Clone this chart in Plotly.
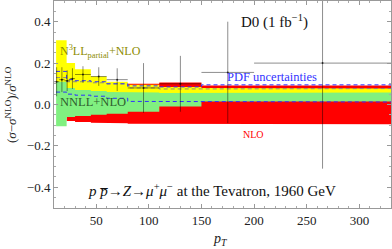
import plotly.graph_objects as go

# ---------------- data ----------------
# band bins (pT edges)
band_edges = [12, 22, 30, 45, 60, 80, 110, 150, 200, 330]
yellow_hi = [0.31, 0.20, 0.17, 0.135, 0.11, 0.095, 0.085, 0.080, 0.077]
yellow_lo = [0.06, 0.05, 0.05, 0.05, 0.05, 0.05, 0.05, 0.05, 0.05]
green_hi = [0.11, 0.08, 0.07, 0.065, 0.06, 0.058, 0.055, 0.058, 0.058]
green_lo = [-0.105, -0.06, -0.055, -0.05, -0.045, -0.035, -0.01, 0.014, 0.014]
red_edges = [22, 30, 45, 60, 80, 110, 150, 200, 330]
red_hi = [0.05, 0.06, 0.07, 0.08, 0.10, 0.106, 0.092, 0.092]
red_lo = [-0.08, -0.085, -0.088, -0.09, -0.093, -0.095, -0.096, -0.096]
central = [0.13, 0.11, 0.11, 0.105, 0.10, 0.08, 0.075, 0.077, 0.077]
pdf_hi = [0.16, 0.12, 0.115, 0.11, 0.10, 0.09, 0.085, 0.095, 0.095]
pdf_lo = [0.06, 0.05, 0.045, 0.04, 0.03, 0.015, 0.012, 0.012, 0.012]

# D0 data points
pt_lo = [10, 15, 20, 25, 30, 45, 60, 80, 110, 150, 200]
pt_hi = [15, 20, 25, 30, 45, 60, 80, 110, 150, 200, 330]
data_val = [0.11, 0.12, 0.115, 0.125, 0.145, 0.135, 0.12, 0.08, 0.10, 0.155, 0.20]
data_err = [0.07, 0.06, 0.05, 0.05, 0.04, 0.045, 0.055, 0.12, 0.135, 0.245, 0.51]

x_ticks = [50, 100, 150, 200, 250, 300]
y_ticks = [-0.4, -0.2, 0.0, 0.2, 0.4]
y_tick_text = ["\u22120.4", "\u22120.2", "0.0", "0.2", "0.4"]

SERIF = "Liberation Serif, Times New Roman, serif"


def step_xy(edges, vals):
    xs, ys = [], []
    for i, v in enumerate(vals):
        xs += [edges[i], edges[i + 1]]
        ys += [v, v]
    return xs, ys


def band_poly(edges, lo, hi):
    xu, yu = step_xy(edges, hi)
    xl, yl = step_xy(edges, lo)
    return xu + xl[::-1] + [xu[0]], yu + yl[::-1] + [yu[0]]


fig = go.Figure()

for edges, lo, hi, col in [
    (red_edges, red_lo, red_hi, "#ff0000"),
    (band_edges, yellow_lo, yellow_hi, "#ffff00"),
    (band_edges, green_lo, green_hi, "#80f080"),
]:
    px, py = band_poly(edges, lo, hi)
    fig.add_trace(go.Scatter(x=px, y=py, mode="lines", fill="toself",
                             fillcolor=col, line=dict(width=0), hoverinfo="skip",
                             showlegend=False))

for vals, col in [(central, "rgba(120,120,150,0.85)"), (pdf_hi, "#3030ff"), (pdf_lo, "#3030ff")]:
    sx, sy = step_xy(band_edges, vals)
    fig.add_trace(go.Scatter(x=sx, y=sy, mode="lines",
                             line=dict(color=col, width=1, dash="4px,3px"),
                             showlegend=False, hoverinfo="skip"))

centers = [(a + b) / 2 for a, b in zip(pt_lo, pt_hi)]
halfw = [(b - a) / 2 for a, b in zip(pt_lo, pt_hi)]
fig.add_trace(go.Scatter(
    x=centers, y=data_val, mode="markers",
    marker=dict(size=2, color="rgba(0,0,0,0.7)"),
    error_x=dict(type="data", array=halfw, width=0, thickness=1, color="rgba(0,0,0,0.45)"),
    error_y=dict(type="data", array=data_err, width=0, thickness=1, color="rgba(0,0,0,0.45)"),
    showlegend=False))

axis_common = dict(showline=True, linecolor="#999999", linewidth=1, mirror="ticks",
                   ticks="inside", ticklen=4, tickcolor="#999999", showgrid=False,
                   zeroline=False, tickfont=dict(family=SERIF, size=13, color="#222"))

fig.update_xaxes(range=[10, 330], tickvals=x_ticks,
                 minor=dict(ticks="inside", dtick=10, ticklen=2, tickcolor="#aaaaaa"),
                 **axis_common)
fig.update_yaxes(range=[-0.5, 0.5], tickvals=y_ticks, ticktext=y_tick_text,
                 minor=dict(ticks="inside", dtick=0.05, ticklen=2, tickcolor="#aaaaaa"),
                 **axis_common)

ann = [
    dict(x=186, y=0.40, text="D0 (1 fb<sup>\u22121</sup>)", xanchor="left",
         font=dict(family=SERIF, size=15, color="#111")),
    dict(x=13.5, y=0.255, text="N<sup>3</sup>LL<sub>partial</sub>+NLO", xanchor="left",
         font=dict(family=SERIF, size=12, color="#8c8c00")),
    dict(x=13.5, y=0.01, text="NNLL+NLO", xanchor="left",
         font=dict(family=SERIF, size=12.5, color="#2f5f2f")),
    dict(x=172, y=0.133, text="PDF uncertainties", xanchor="left",
         font=dict(family=SERIF, size=12.5, color="#3333ff")),
    dict(x=188, y=-0.145, text="NLO", xanchor="left",
         font=dict(family=SERIF, size=10, color="#ff0000")),
    dict(x=40.5, y=-0.415,
         text="<i>p</i> <i>p\u0305</i>\u2192<i>Z</i>\u2192<i>\u03bc</i><sup>+</sup><i>\u03bc</i><sup>\u2212</sup> at the Tevatron, 1960 GeV",
         xanchor="left", font=dict(family=SERIF, size=15, color="#111")),
]
for a in ann:
    fig.add_annotation(xref="x", yref="y", showarrow=False, yanchor="middle", **a)

fig.add_annotation(xref="paper", yref="paper", x=(220 - 54) / 337, y=(208 - 239) / 207,
                   text="<i>p<sub>T</sub></i>", showarrow=False, xanchor="center",
                   yanchor="middle", font=dict(family=SERIF, size=14, color="#222"))
fig.add_annotation(xref="paper", yref="paper", x=(11 - 54) / 337, y=(208 - 105) / 207,
                   text="(<i>\u03c3</i>\u2212<i>\u03c3</i><sup>NLO</sup>)/<i>\u03c3</i><sup>NLO</sup>",
                   textangle=-90, showarrow=False, xanchor="center", yanchor="middle",
                   font=dict(family=SERIF, size=13, color="#222"))

fig.update_layout(width=392, height=249, margin=dict(l=54, r=1, t=1, b=41),
                  paper_bgcolor="white", plot_bgcolor="white", showlegend=False)

fig.write_html("out.html", config={"displayModeBar": False},
               post_script="document.body.style.margin='0';")
